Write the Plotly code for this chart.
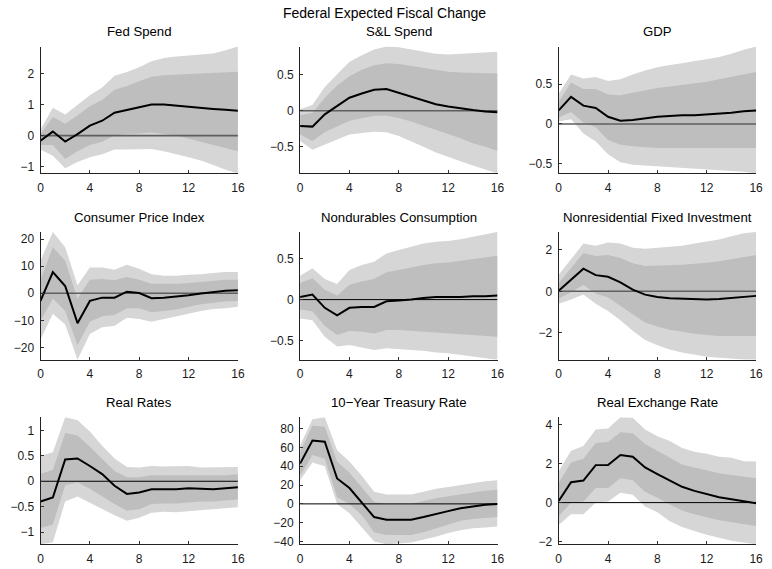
import plotly.graph_objects as go

horizon = list(range(17))

titles = ["Fed Spend", "S&L Spend", "GDP",
          "Consumer Price Index", "Nondurables Consumption", "Nonresidential Fixed Investment",
          "Real Rates", "10\u2212Year Treasury Rate", "Real Exchange Rate"]

# point estimates
fed_mid = [-0.16, 0.13, -0.19, 0.05, 0.32, 0.48, 0.74, 0.82, 0.90, 1.00, 1.00, 0.96, 0.93, 0.90, 0.86, 0.83, 0.80]
sl_mid = [-0.21, -0.22, -0.05, 0.07, 0.18, 0.24, 0.29, 0.30, 0.25, 0.20, 0.14, 0.09, 0.06, 0.03, 0.01, -0.01, -0.02]
gdp_mid = [0.17, 0.34, 0.23, 0.20, 0.09, 0.04, 0.05, 0.07, 0.09, 0.10, 0.11, 0.11, 0.12, 0.13, 0.14, 0.16, 0.17]
cpi_mid = [-2.8, 7.8, 2.7, -11.0, -2.8, -1.6, -1.6, 0.6, 0.1, -1.8, -1.6, -1.2, -0.7, -0.1, 0.5, 0.9, 1.1]
nd_mid = [0.03, 0.06, -0.10, -0.19, -0.10, -0.09, -0.09, -0.02, -0.01, 0.00, 0.02, 0.03, 0.03, 0.03, 0.04, 0.04, 0.05]
nr_mid = [0.03, 0.56, 1.09, 0.78, 0.70, 0.43, 0.08, -0.16, -0.27, -0.34, -0.37, -0.40, -0.40, -0.37, -0.32, -0.27, -0.22]
rr_mid = [-0.40, -0.32, 0.43, 0.45, 0.30, 0.14, -0.09, -0.25, -0.22, -0.16, -0.16, -0.16, -0.14, -0.15, -0.16, -0.14, -0.12]
ty_mid = [42.8, 67.4, 66.0, 27.0, 16.8, 1.8, -14.0, -16.8, -16.8, -16.8, -14.0, -10.5, -7.7, -4.6, -2.5, -1.0, 0.0]
fx_mid = [0.08, 1.04, 1.13, 1.92, 1.93, 2.44, 2.35, 1.80, 1.46, 1.13, 0.81, 0.60, 0.42, 0.27, 0.17, 0.07, -0.03]

# outer (light) bands
fed_hi90 = [0.20, 0.90, 0.68, 1.00, 1.30, 1.55, 1.93, 2.05, 2.20, 2.40, 2.50, 2.55, 2.58, 2.60, 2.65, 2.75, 2.87]
fed_lo90 = [-0.45, -0.65, -1.05, -0.85, -0.70, -0.60, -0.45, -0.45, -0.45, -0.43, -0.50, -0.60, -0.70, -0.80, -0.95, -1.10, -1.22]
sl_hi90 = [0.02, 0.08, 0.33, 0.50, 0.68, 0.77, 0.85, 0.89, 0.88, 0.85, 0.82, 0.79, 0.78, 0.79, 0.80, 0.81, 0.82]
sl_lo90 = [-0.42, -0.54, -0.47, -0.40, -0.33, -0.31, -0.29, -0.30, -0.35, -0.42, -0.50, -0.58, -0.64, -0.70, -0.76, -0.82, -0.87]
gdp_hi90 = [0.38, 0.62, 0.57, 0.59, 0.54, 0.56, 0.62, 0.67, 0.71, 0.74, 0.76, 0.79, 0.81, 0.84, 0.88, 0.93, 0.97]
gdp_lo90 = [0.03, 0.06, -0.12, -0.22, -0.38, -0.48, -0.51, -0.52, -0.53, -0.54, -0.55, -0.56, -0.57, -0.58, -0.59, -0.60, -0.62]
cpi_hi90 = [12, 22.6, 17, 3, 9.5, 9.5, 8.7, 10.5, 9, 7, 6.5, 6.5, 6.8, 7, 7.5, 7.8, 7.8]
cpi_lo90 = [-17, -7.5, -11.5, -24.5, -15, -12.5, -12, -9, -9.5, -10.5, -9.5, -8.5, -7.5, -6.5, -5.8, -5.5, -5]
nd_hi90 = [0.29, 0.38, 0.25, 0.19, 0.36, 0.42, 0.46, 0.56, 0.60, 0.64, 0.68, 0.70, 0.71, 0.73, 0.76, 0.79, 0.82]
nd_lo90 = [-0.23, -0.25, -0.45, -0.57, -0.55, -0.58, -0.61, -0.59, -0.60, -0.61, -0.62, -0.64, -0.65, -0.67, -0.69, -0.71, -0.73]
nr_hi90 = [0.8, 1.55, 2.3, 2.2, 2.35, 2.3, 2.1, 2.05, 2.1, 2.15, 2.2, 2.3, 2.4, 2.5, 2.65, 2.8, 2.86]
nr_lo90 = [-0.6, -0.4, -0.15, -0.6, -0.95, -1.4, -1.9, -2.35, -2.6, -2.8, -2.95, -3.05, -3.15, -3.2, -3.25, -3.28, -3.3]
rr_hi90 = [0.50, 0.57, 1.26, 1.20, 0.98, 0.70, 0.45, 0.28, 0.27, 0.30, 0.29, 0.30, 0.30, 0.27, 0.27, 0.27, 0.28]
rr_lo90 = [-1.24, -1.20, -0.40, -0.30, -0.42, -0.55, -0.67, -0.78, -0.72, -0.62, -0.60, -0.61, -0.58, -0.56, -0.55, -0.53, -0.51]
ty_hi90 = [62, 90, 92, 57, 45, 30, 13, 10, 10, 10, 13, 16, 18, 20, 22, 24, 25]
ty_lo90 = [25, 44, 40, 0, -10, -25, -40, -42.8, -42, -41, -38, -35, -31, -28, -26, -25, -24]
fx_hi90 = [1.6, 2.65, 2.9, 3.75, 3.8, 4.37, 4.35, 3.75, 3.4, 3.15, 2.8, 2.6, 2.5, 2.35, 2.3, 2.12, 2.1]
fx_lo90 = [-1.15, -0.6, -0.6, 0.0, 0.05, 0.5, 0.4, -0.2, -0.5, -0.95, -1.25, -1.45, -1.65, -1.8, -1.95, -2.05, -2.13]

# inner (dark) bands
fed_hi68 = [0.05, 0.60, 0.38, 0.65, 0.95, 1.15, 1.48, 1.60, 1.75, 1.90, 1.95, 1.97, 1.98, 2.00, 2.02, 2.04, 2.06]
fed_lo68 = [-0.30, -0.30, -0.75, -0.50, -0.30, -0.20, 0.00, 0.05, 0.07, 0.10, 0.05, 0.00, -0.10, -0.20, -0.30, -0.40, -0.50]
sl_hi68 = [-0.06, -0.03, 0.18, 0.35, 0.48, 0.57, 0.63, 0.66, 0.65, 0.62, 0.59, 0.56, 0.54, 0.53, 0.52, 0.52, 0.52]
sl_lo68 = [-0.33, -0.42, -0.30, -0.22, -0.14, -0.10, -0.07, -0.07, -0.10, -0.15, -0.20, -0.26, -0.32, -0.38, -0.45, -0.50, -0.56]
gdp_hi68 = [0.28, 0.52, 0.44, 0.44, 0.37, 0.36, 0.39, 0.42, 0.45, 0.47, 0.49, 0.51, 0.53, 0.56, 0.59, 0.62, 0.65]
gdp_lo68 = [0.08, 0.15, 0.02, -0.04, -0.20, -0.26, -0.28, -0.29, -0.30, -0.30, -0.30, -0.30, -0.30, -0.30, -0.30, -0.30, -0.30]
cpi_hi68 = [5, 17, 12, -2, 5, 5.3, 4.8, 6, 5, 3.5, 3.5, 3.5, 3.8, 4.2, 4.7, 5, 5]
cpi_lo68 = [-10, -2, -6.5, -19, -10.5, -8.5, -8, -5.5, -5.5, -7, -6.5, -6, -5, -4, -3.5, -3, -2.8]
nd_hi68 = [0.20, 0.26, 0.12, 0.05, 0.18, 0.22, 0.25, 0.33, 0.36, 0.39, 0.42, 0.44, 0.45, 0.47, 0.49, 0.51, 0.53]
nd_lo68 = [-0.12, -0.14, -0.32, -0.43, -0.38, -0.39, -0.41, -0.37, -0.37, -0.38, -0.39, -0.40, -0.41, -0.42, -0.43, -0.44, -0.45]
nr_hi68 = [0.4, 1.1, 1.85, 1.7, 1.75, 1.6, 1.35, 1.22, 1.22, 1.25, 1.28, 1.32, 1.38, 1.45, 1.55, 1.65, 1.75]
nr_lo68 = [-0.35, -0.05, 0.3, -0.1, -0.3, -0.7, -1.1, -1.5, -1.7, -1.85, -1.95, -2.05, -2.1, -2.15, -2.15, -2.15, -2.15]
rr_hi68 = [0.15, 0.22, 0.95, 0.90, 0.68, 0.43, 0.20, 0.08, 0.08, 0.12, 0.12, 0.13, 0.13, 0.12, 0.12, 0.12, 0.14]
rr_lo68 = [-0.92, -0.85, -0.08, -0.02, -0.15, -0.30, -0.45, -0.58, -0.55, -0.45, -0.44, -0.44, -0.42, -0.40, -0.40, -0.38, -0.36]
ty_hi68 = [55, 83, 82, 45, 33, 18, 2, 0, 0, 0, 3, 6, 8, 10, 12, 14, 15]
ty_lo68 = [30, 52, 48, 7, 0, -12, -30, -33, -33, -33, -30, -26, -22, -18, -16, -15, -14]
fx_hi68 = [1.0, 2.05, 2.25, 3.05, 3.1, 3.6, 3.55, 3.0, 2.65, 2.3, 1.95, 1.8, 1.65, 1.5, 1.42, 1.33, 1.25]
fx_lo68 = [-0.7, 0.0, 0.05, 0.75, 0.75, 1.25, 1.15, 0.55, 0.25, -0.1, -0.4, -0.6, -0.75, -0.9, -1.0, -1.1, -1.2]

mids = [fed_mid, sl_mid, gdp_mid, cpi_mid, nd_mid, nr_mid, rr_mid, ty_mid, fx_mid]
hi90 = [fed_hi90, sl_hi90, gdp_hi90, cpi_hi90, nd_hi90, nr_hi90, rr_hi90, ty_hi90, fx_hi90]
lo90 = [fed_lo90, sl_lo90, gdp_lo90, cpi_lo90, nd_lo90, nr_lo90, rr_lo90, ty_lo90, fx_lo90]
hi68 = [fed_hi68, sl_hi68, gdp_hi68, cpi_hi68, nd_hi68, nr_hi68, rr_hi68, ty_hi68, fx_hi68]
lo68 = [fed_lo68, sl_lo68, gdp_lo68, cpi_lo68, nd_lo68, nr_lo68, rr_lo68, ty_lo68, fx_lo68]

xticks = [0, 4, 8, 12, 16]
yticks = [[-1, 0, 1, 2], [-0.5, 0, 0.5], [-0.5, 0, 0.5],
          [-20, -10, 0, 10, 20], [-0.5, 0, 0.5], [-2, 0, 2],
          [-1, -0.5, 0, 0.5, 1], [-40, -20, 0, 20, 40, 60, 80], [-2, 0, 2, 4]]
zero_gray = [True, True, True, True, False, True, False, False, False]

W, H = 772, 569
col_px = [(38, 238), (301, 501), (563, 763)]
row_px = [(47, 175), (234, 363), (421, 549)]

fig = go.Figure()
layout = dict(width=W, height=H, margin=dict(l=0, r=0, t=0, b=0),
              paper_bgcolor="white", plot_bgcolor="white", showlegend=False,
              font=dict(family="Liberation Sans, Arial, sans-serif", size=12, color="#1a1a1a"))
annotations = [dict(text="Federal Expected Fiscal Change", x=386 / W, y=1 - 13 / H,
                    xref="paper", yref="paper", showarrow=False,
                    font=dict(size=14, color="black"), xanchor="center", yanchor="middle")]

for i in range(9):
    r, c = divmod(i, 3)
    n = i + 1
    xa = "x" if n == 1 else f"x{n}"
    ya = "y" if n == 1 else f"y{n}"
    xr = horizon + horizon[::-1]
    fig.add_trace(go.Scatter(x=xr, y=hi90[i] + lo90[i][::-1], fill="toself",
                             fillcolor="#d6d6d6", line=dict(width=0), mode="lines",
                             hoverinfo="skip", xaxis=xa, yaxis=ya))
    fig.add_trace(go.Scatter(x=xr, y=hi68[i] + lo68[i][::-1], fill="toself",
                             fillcolor="#bebebe", line=dict(width=0), mode="lines",
                             hoverinfo="skip", xaxis=xa, yaxis=ya))
    if zero_gray[i]:
        zl = dict(color="#5f5f5f", width=1.6)
    else:
        zl = dict(color="black", width=1)
    fig.add_trace(go.Scatter(x=[0, 16], y=[0, 0], mode="lines", line=zl,
                             hoverinfo="skip", xaxis=xa, yaxis=ya))
    fig.add_trace(go.Scatter(x=horizon, y=mids[i], mode="lines",
                             line=dict(color="black", width=2), xaxis=xa, yaxis=ya))
    ymin = min(lo90[i] + lo68[i] + mids[i])
    ymax = max(hi90[i] + hi68[i] + mids[i])
    x0, x1 = col_px[c]
    y0, y1 = row_px[r]
    xkey = "xaxis" if n == 1 else f"xaxis{n}"
    ykey = "yaxis" if n == 1 else f"yaxis{n}"
    layout[xkey] = dict(domain=[x0 / W, x1 / W], anchor=ya, range=[0, 16],
                        tickvals=xticks, ticks="inside", ticklen=3, tickcolor="#333",
                        showline=True, linecolor="#222", linewidth=1, showgrid=False,
                        zeroline=False, mirror=False, ticklabelstandoff=3,
                        tickfont=dict(size=12))
    layout[ykey] = dict(domain=[1 - y1 / H, 1 - y0 / H], anchor=xa, range=[ymin, ymax],
                        tickvals=yticks[i], ticks="inside", ticklen=3, tickcolor="#333",
                        showline=True, linecolor="#222", linewidth=1, showgrid=False,
                        zeroline=False, mirror=False, ticklabelstandoff=3,
                        tickfont=dict(size=12))
    annotations.append(dict(text=titles[i], x=(x0 + x1) / 2 / W, y=1 - (y0 - 15) / H,
                            xref="paper", yref="paper", showarrow=False,
                            font=dict(size=13.2, color="black"),
                            xanchor="center", yanchor="middle"))

layout["annotations"] = annotations
fig.update_layout(**layout)
fig.write_html("out.html", config={"displayModeBar": False},
               post_script="document.body.style.margin='0';document.body.style.overflow='hidden';")
